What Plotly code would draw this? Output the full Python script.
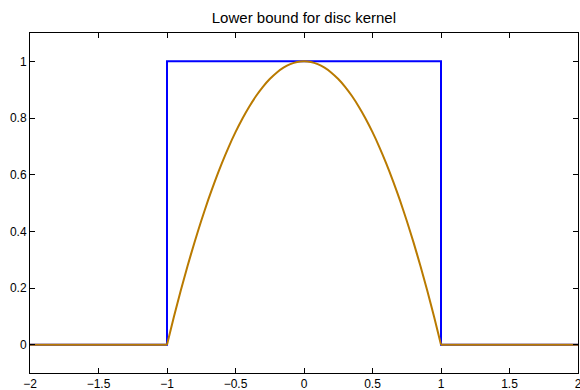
import plotly.graph_objects as go

# Blue: disc (box) kernel
box_x = [-2, -1, -1, 1, 1, 2]
box_y = [0, 0, 1, 1, 0, 0]

# Brown: lower bound, flat parts outside [-1, 1]
flat_left_x = [-2, -1]
flat_left_y = [0, 0]
flat_right_x = [1, 2]
flat_right_y = [0, 0]

# Brown: lower bound curve on [-1, 1]
lb_x = [-1, -0.95, -0.9, -0.85, -0.8, -0.75, -0.7, -0.65, -0.6, -0.55, -0.5,
        -0.45, -0.4, -0.35, -0.3, -0.25, -0.2, -0.15, -0.1, -0.05, 0,
        0.05, 0.1, 0.15, 0.2, 0.25, 0.3, 0.35, 0.4, 0.45, 0.5,
        0.55, 0.6, 0.65, 0.7, 0.75, 0.8, 0.85, 0.9, 0.95, 1]
lb_y = [0, 0.0975, 0.19, 0.2775, 0.36, 0.4375, 0.51, 0.5775, 0.64, 0.6975, 0.75,
        0.7975, 0.84, 0.8775, 0.91, 0.9375, 0.96, 0.9775, 0.99, 0.9975, 1.0,
        0.9975, 0.99, 0.9775, 0.96, 0.9375, 0.91, 0.8775, 0.84, 0.7975, 0.75,
        0.6975, 0.64, 0.5775, 0.51, 0.4375, 0.36, 0.2775, 0.19, 0.0975, 0]

x_ticks = [-2, -1.5, -1, -0.5, 0, 0.5, 1, 1.5, 2]
x_labels = ["\u22122", "\u22121.5", "\u22121", "\u22120.5", "0", "0.5", "1", "1.5", "2"]
y_ticks = [0, 0.2, 0.4, 0.6, 0.8, 1]
y_labels = ["0", "0.2", "0.4", "0.6", "0.8", "1"]

BROWN = "rgb(185,122,0)"

fig = go.Figure()
fig.add_trace(go.Scatter(x=box_x, y=box_y, mode="lines",
                         line=dict(color="#0000FF", width=2), showlegend=False))
for xs, ys in [(flat_left_x, flat_left_y), (flat_right_x, flat_right_y)]:
    fig.add_trace(go.Scatter(x=xs, y=ys, mode="lines",
                             line=dict(color=BROWN, width=2), showlegend=False))
fig.add_trace(go.Scatter(x=lb_x, y=lb_y, mode="lines",
                         line=dict(color=BROWN, width=2, shape="spline", smoothing=0.6),
                         showlegend=False))

axis_common = dict(showgrid=False, zeroline=False, showline=True, linecolor="black",
                   linewidth=1, mirror="ticks", ticks="inside", ticklen=5,
                   tickcolor="black", ticklabeloverflow="allow", automargin=False,
                   tickfont=dict(family="Liberation Sans, Arial", size=12, color="black"))

fig.update_xaxes(range=[-2, 2], tickvals=x_ticks, ticktext=x_labels, **axis_common)
fig.update_yaxes(range=[-0.1, 1.1], tickvals=y_ticks, ticktext=y_labels, **axis_common)

fig.update_layout(
    width=580, height=390,
    margin=dict(l=30, r=2, t=33, b=17),
    paper_bgcolor="white", plot_bgcolor="white",
    title=dict(text="Lower bound for disc kernel", x=0.524, xanchor="center",
               y=0.955, yanchor="middle", automargin=False,
               font=dict(family="Liberation Sans, Arial", size=15, color="black")),
)

fig.write_html("out.html")
